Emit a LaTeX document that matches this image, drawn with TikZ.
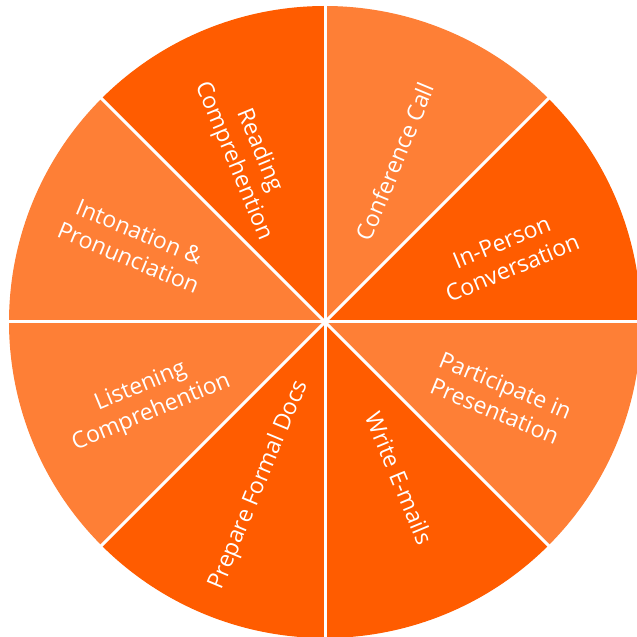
\documentclass[tikz,border=0pt]{standalone}
\usepackage{fontspec}
\setmainfont{Open Sans}
\usetikzlibrary{calc}
\definecolor{darkor}{HTML}{FF5C00}
\definecolor{lightor}{HTML}{FE7F36}
\begin{document}
\begin{tikzpicture}[x=1pt,y=1pt,
  lbl/.style={text=white,font=\fontsize{23}{28}\selectfont,align=center,inner sep=0pt},
  sep/.style={draw=white,line width=3pt}]
\useasboundingbox (0,0) rectangle (637,637);
\clip (0,0) rectangle (637,637);
\coordinate (c) at (325,315);
\def\R{316}
\foreach \a/\col in {90/darkor,45/lightor,0/darkor,-45/lightor,-90/darkor,-135/darkor,180/lightor,135/lightor}{
  \fill[\col] (c) -- ++(\a:\R) arc[start angle=\a,delta angle=45,radius=\R] -- cycle;
}
\foreach \a in {0,45,...,315}{
  \draw[sep] (c) -- ++(\a:\R+5);
}
\node[lbl,rotate=67.5] (conf) at ($(c)+(66.4:175)$) {Conference Call};
\node[lbl,rotate=-67.5] (read) at ($(c)+(115.4:184)$) {Reading\\Comprehention};
\node[lbl,rotate=22.5] (inp) at ($(c)+(20.2:194)$) {In-Person\\Conversation};
\node[lbl,rotate=-22.5] (part) at ($(c)+(-23.5:191)$) {Participate in\\Presentation};
\node[lbl,rotate=-67.5] (write) at ($(c)+(-64.6:173)$) {Write E-mails};
\node[lbl,rotate=67.5] (prep) at ($(c)+(248:176)$) {Prepare Formal Docs};
\node[lbl,rotate=22.5] (list) at ($(c)+(203.5:195)$) {Listening\\Comprehention};
\node[lbl,rotate=-22.5] (into) at ($(c)+(158:206)$) {Intonation \&\\Pronunciation};
\end{tikzpicture}
\end{document}
